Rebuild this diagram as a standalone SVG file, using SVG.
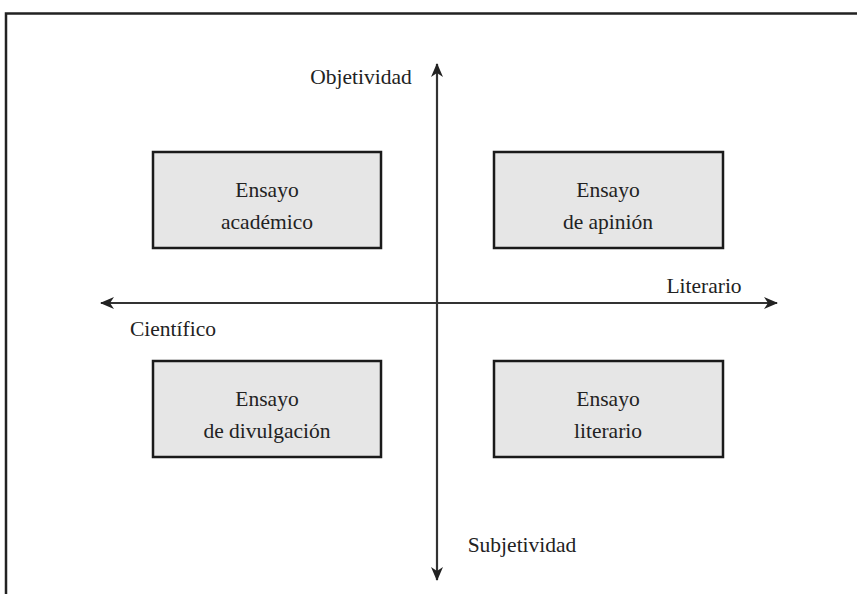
<svg xmlns="http://www.w3.org/2000/svg" width="857" height="594" viewBox="0 0 857 594">
<style>
.box{fill:#e6e6e6;stroke:#1a1a1a;stroke-width:2.5}
.t{font-family:"Liberation Serif",serif;font-size:21.5px;fill:#222}
.ax{stroke:#333;stroke-width:2.2;fill:none}
</style>
<defs>
<marker id="ah" viewBox="0 0 14 12" refX="13" refY="6" markerWidth="14" markerHeight="12" markerUnits="userSpaceOnUse" orient="auto">
<path d="M0,0 L14,6 L0,12 L4,6 Z" fill="#222"/>
</marker>
</defs>
<rect width="857" height="594" fill="#fff"/>
<path d="M6,594 V13.5 H857" fill="none" stroke="#222" stroke-width="2.5"/>
<g id="connectors">
<line class="ax" x1="437" y1="303" x2="437" y2="64" marker-end="url(#ah)"/>
<line class="ax" x1="437" y1="303" x2="437" y2="580" marker-end="url(#ah)"/>
<line class="ax" x1="437" y1="303" x2="101" y2="303" marker-end="url(#ah)"/>
<line class="ax" x1="437" y1="303" x2="777" y2="303" marker-end="url(#ah)"/>
</g>
<g id="labels">
<text class="t" x="361" y="84" text-anchor="middle">Objetividad</text>
<text class="t" x="704" y="293" text-anchor="middle">Literario</text>
<text class="t" x="173" y="336" text-anchor="middle">Científico</text>
<text class="t" x="522" y="552" text-anchor="middle">Subjetividad</text>
</g>
<g id="academico">
<rect class="box" x="153" y="152" width="228" height="96"/>
<text class="t" x="267" y="197" text-anchor="middle">Ensayo</text>
<text class="t" x="267" y="229" text-anchor="middle">académico</text>
</g>
<g id="opinion">
<rect class="box" x="494" y="152" width="229" height="96"/>
<text class="t" x="608" y="197" text-anchor="middle">Ensayo</text>
<text class="t" x="608" y="229" text-anchor="middle">de apinión</text>
</g>
<g id="divulgacion">
<rect class="box" x="153" y="361" width="228" height="96"/>
<text class="t" x="267" y="406" text-anchor="middle">Ensayo</text>
<text class="t" x="267" y="438" text-anchor="middle">de divulgación</text>
</g>
<g id="literario">
<rect class="box" x="494" y="361" width="229" height="96"/>
<text class="t" x="608" y="406" text-anchor="middle">Ensayo</text>
<text class="t" x="608" y="438" text-anchor="middle">literario</text>
</g>
</svg>
